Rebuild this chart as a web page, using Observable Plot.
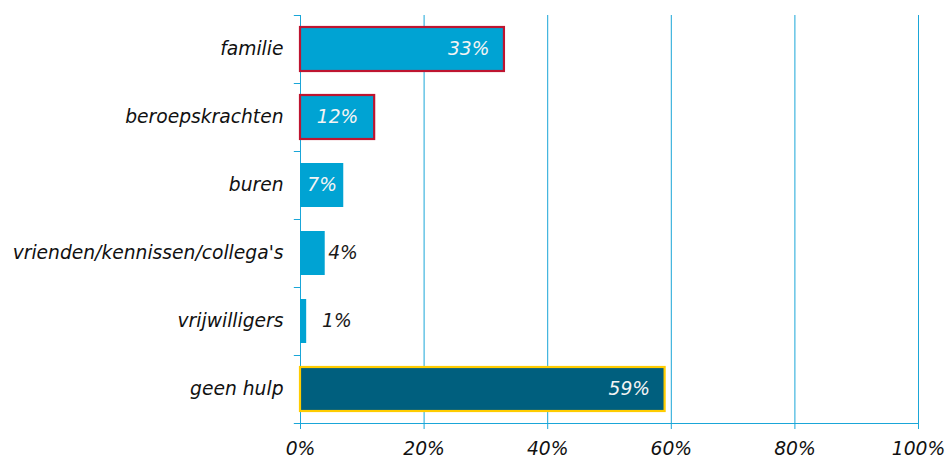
<!DOCTYPE html>
<html>
<head>
<meta charset="utf-8">
<script src="https://cdn.jsdelivr.net/npm/d3@7"></script>
<script src="https://cdn.jsdelivr.net/npm/@observablehq/plot@0.6"></script>
<style>
  html, body { margin: 0; padding: 0; background: #fff; }
</style>
</head>
<body>
<div id="chart"></div>
<script>
// ---- data ----
const categories = ["familie", "beroepskrachten", "buren", "vrienden/kennissen/collega's", "vrijwilligers", "geen hulp"];
const values = [33, 12, 7, 4, 1, 59];
const xTicks = [0, 20, 40, 60, 80, 100];

const data = categories.map((c, i) => ({category: c, value: values[i]}));

// ---- style ----
const BLUE = "#00A3D3";
const DARK = "#005F7E";
const GRID = "#1AA6D8";
const fillFor = c => c === "geen hulp" ? DARK : BLUE;
const strokeFor = c => ({"familie": "#BE1530", "beroepskrachten": "#BE1530", "geen hulp": "#FFCC00"})[c] || "none";
const FS = 18.7;

const chart = Plot.plot({
  width: 950,
  height: 457,
  marginLeft: 300,
  marginRight: 32,
  marginTop: 15,
  marginBottom: 34,
  style: {fontFamily: "'DejaVu Sans', Verdana, sans-serif", fontStyle: "italic", fontSize: FS + "px", background: "#fff", overflow: "visible"},
  x: {domain: [0, 100]},
  y: {domain: categories, padding: 0},
  marks: [
    // gridlines
    Plot.ruleX(xTicks, {x: d => d, stroke: GRID, strokeWidth: 1}),
    // bottom axis line
    Plot.frame({anchor: "bottom", stroke: GRID, strokeWidth: 1}),
    // boundary ticks on the category axis
    Plot.ruleY(categories, {y: d => d, x1: -1, x2: 0, dy: -34, stroke: GRID}),
    Plot.ruleY(categories.slice(-1), {y: d => d, x1: -1, x2: 0, dy: 34, stroke: GRID}),
    // bars
    Plot.barX(data, {
      y: "category", x: "value",
      insetTop: 12, insetBottom: 12,
      fill: d => fillFor(d.category),
      stroke: d => strokeFor(d.category),
      strokeWidth: 2.2
    }),
    // inside labels (wide bars)
    Plot.text(data.filter(d => d.value >= 20), {
      y: "category", x: "value", text: d => d.value + "%",
      textAnchor: "end", dx: -15, fill: "#F4F4F4", fontSize: FS
    }),
    // inside labels (narrow bars): centred
    Plot.text(data.filter(d => d.value >= 5 && d.value < 20), {
      y: "category", x: d => d.value / 2, text: d => d.value + "%",
      textAnchor: "middle", fill: "#F4F4F4", fontSize: FS
    }),
    // outside labels
    Plot.text(data.filter(d => d.value < 5), {
      y: "category", x: d => Math.max(d.value, 3), text: d => d.value + "%",
      textAnchor: "start", dx: 3, fill: "#1a1a1a", fontSize: FS
    }),
    Plot.axisY({tickSize: 0, tickPadding: 17, fill: "#111", fontSize: FS, label: null}),
    Plot.axisX({ticks: xTicks, tickSize: 6, stroke: GRID, tickPadding: 12, fill: "#111", fontSize: FS, tickFormat: d => d + "%", label: null})
  ]
});
document.getElementById("chart").appendChild(chart);
</script>
</body>
</html>
